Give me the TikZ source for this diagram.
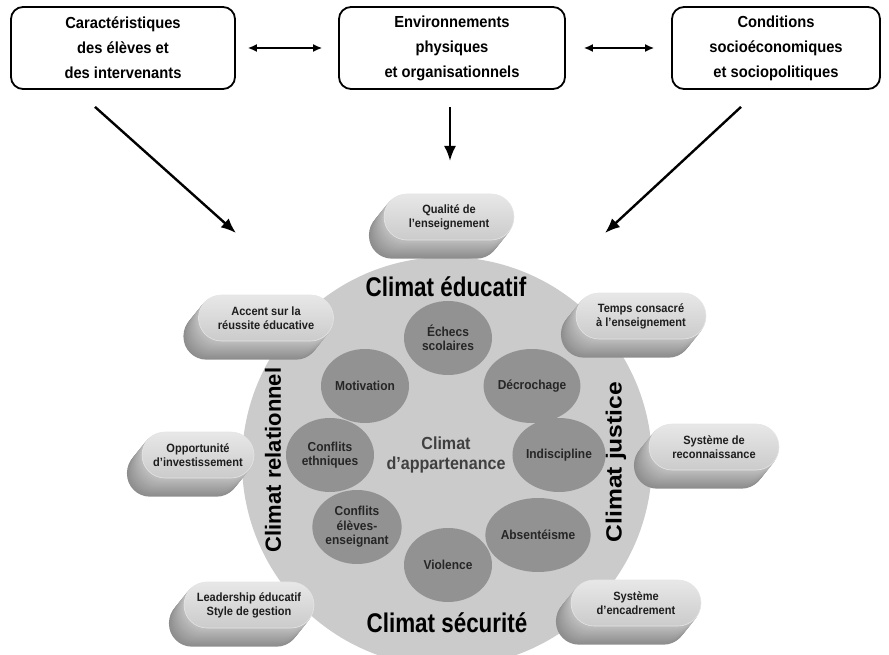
\documentclass[tikz,border=0pt]{standalone}
\usepackage{fontspec}
\setmainfont{Liberation Sans}
\newfontfamily\etroite[FakeStretch=0.92]{Liberation Sans}
\newfontfamily\serree[FakeStretch=0.83]{Liberation Sans}
\usepackage{graphicx}
\usepackage{tikz}
\usetikzlibrary{shapes.geometric,  % pastilles
           calc,                   % ombres des bulles
           positioning,
           arrows.meta}
\pgfdeclarelayer{background}
\pgfdeclarelayer{relief}
\pgfsetlayers{background,relief,main}

\definecolor{fond}{RGB}{203,203,203}
\definecolor{pastgris}{RGB}{146,146,146}
\definecolor{facette}{RGB}{216,216,216}
\definecolor{encre}{RGB}{30,30,30}

\tikzset{
  cadre/.style={draw, line width=1.8pt, rounded corners=12pt, minimum height=82pt,
    align=center, font=\etroite\bfseries\fontsize{16}{25}\selectfont},
  bulle/.style={rounded corners=23pt, minimum width=130pt, minimum height=46pt,
    inner sep=0pt, align=center, top color=facette!60!white, bottom color=facette!94!black,
    draw=white!80!gray, line width=0.6pt, text=encre,
    font=\etroite\bfseries\fontsize{12}{14}\selectfont},
  pastille/.style={ellipse, fill=pastgris, minimum width=88pt, minimum height=74pt,
    inner sep=0pt, align=center, text=black!85, font=\etroite\bfseries\fontsize{13}{14.5}\selectfont},
  titre/.style={font=\serree\bfseries\fontsize{27}{27}\selectfont},
  titrev/.style={font=\bfseries\fontsize{22}{22}\selectfont, rotate=90},
  fleche/.style={line width=2.4pt, -{Latex[length=15pt,width=12pt]}},
  lien/.style={line width=1.5pt, {Latex[length=9pt,width=8pt]}-{Latex[length=9pt,width=8pt]}}
}

\begin{document}
\begin{tikzpicture}[x=1pt,y=-1pt]
\useasboundingbox (0,0) rectangle (889,655);

% les trois determinants
\node[cadre, minimum width=224pt] (carac) at (123,48) {Caractéristiques\\des élèves et\\des intervenants};
\node[cadre, minimum width=226pt] (envir) at (452,48) {Environnements\\physiques\\et organisationnels};
\node[cadre, minimum width=208pt] (condi) at (776,48) {Conditions\\socioéconomiques\\et sociopolitiques};
\draw[lien, shorten <=12pt, shorten >=16pt] (carac) -- (envir);
\draw[lien, shorten <=18pt, shorten >=17pt] (envir) -- (condi);

\coordinate (d1) at ($(carac.south)+(-28,17)$);
\coordinate (f1) at (236,233);
\coordinate (d2) at ($(envir.south)+(-2,17)$);
\coordinate (f2) at (450,161);
\coordinate (d3) at ($(condi.south)+(-35,17)$);
\coordinate (f3) at (605,233);
\draw[fleche] (d1) -- (f1);
\draw[fleche] (d2) -- (f2);
\draw[fleche] (d3) -- (f3);

% le disque
\begin{pgfonlayer}{background}
\fill[fond] (447,462) circle[radius=205];
\end{pgfonlayer}

\node[titre] (educ) at (446,287) {Climat éducatif};
\node[titre] (secu) at (447,623) {Climat sécurité};
\node[titrev] (relat) at (273,460) {Climat relationnel};
\node[titrev] (just) at (616,462) {\scalebox{1.12}[1]{Climat justice}};

% pastilles
\node[pastille] (echec) at (448,338) {Échecs\\scolaires};
\node[pastille] (decro) at (532,386) {Décrochage};
\node[pastille] (indis) at (559,455) {Indiscipline};
\node[pastille] (absen) at (538,535) {Absentéisme};
\node[pastille] (viol) at (448,565) {Violence};
\node[pastille] (celev) at (357,527) {Conflits\\élèves-\\enseignant};
\node[pastille] (cethn) at (330,455) {Conflits\\ethniques};
\node[pastille] (motiv) at (365,386) {Motivation};
\node[font=\etroite\bfseries\fontsize{17.5}{20}\selectfont, text=black!75, align=center] (appart) at (446,455) {Climat\\d’appartenance};

% bulles
\node[bulle] (qual) at (449,217) {Qualité de\\l’enseignement};
\node[bulle, minimum width=135pt] (accent) at (266,318) {Accent sur la\\réussite éducative};
\node[bulle] (temps) at (641,316) {Temps consacré\\à l’enseignement};
\node[bulle, minimum width=112pt] (oppo) at (198,455) {Opportunité\\d’investissement};
\node[bulle] (recon) at (714,447) {Système de\\reconnaissance};
\node[bulle] (leader) at (249,605) {Leadership éducatif\\Style de gestion};
\node[bulle] (encad) at (636,603) {Système\\d’encadrement};

\begin{pgfonlayer}{relief}
\foreach \b in {qual,accent,temps,oppo,recon,leader,encad}
  \foreach \k in {18,...,1}{
    \pgfmathsetmacro\teinte{25+1.1*\k}
    \fill[black!\teinte, rounded corners=23pt] ($(\b.south west)+(-0.82*\k,1.02*\k)$) rectangle ($(\b.north east)+(-0.82*\k,1.02*\k)$);
  }
\end{pgfonlayer}
\end{tikzpicture}
\end{document}
